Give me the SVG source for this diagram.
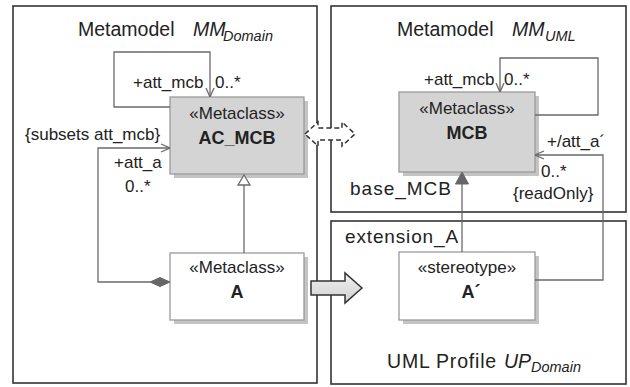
<svg xmlns="http://www.w3.org/2000/svg" width="630" height="387" viewBox="0 0 630 387">
<defs>
<style>
text{font-family:"Liberation Sans",Arial,sans-serif;font-size:17px;fill:#222}
.title{font-size:19.5px}
.frame{fill:#fff;stroke:#333;stroke-width:1.6}
.shadow{fill:#c4c4c4;stroke:none}
.mc{fill:#d4d4d4;stroke:#9a9a9a;stroke-width:1.3}
.wc{fill:#fff;stroke:#9a9a9a;stroke-width:1.3}
.ln{fill:none;stroke:#6a6a6a;stroke-width:1.3}
.b{font-weight:bold;font-size:18px}
.it{font-style:italic}
.sub{font-style:italic;font-size:14.5px}
.big{font-size:19px}
</style>
<marker id="open" viewBox="0 0 10 10" refX="10" refY="5" markerWidth="10" markerHeight="10" markerUnits="userSpaceOnUse" orient="auto">
<path d="M1,1 L10,5 L1,9" fill="none" stroke="#6a6a6a" stroke-width="1.3"/>
</marker>
<linearGradient id="ag" x1="0" y1="0" x2="0" y2="1">
<stop offset="0" stop-color="#f0f0f0"/><stop offset="1" stop-color="#d0d0d0"/>
</linearGradient>
</defs>

<g id="frame-mmdomain">
<rect class="frame" x="13" y="6" width="304" height="377"/>
<text class="title" x="78" y="36">Metamodel<tspan x="193" class="it">MM</tspan><tspan x="223" y="41" class="sub">Domain</tspan></text>
</g>
<g id="frame-mmuml">
<rect class="frame" x="331" y="6" width="295" height="206"/>
<text class="title" x="397" y="36">Metamodel<tspan x="512" class="it">MM</tspan><tspan x="545" y="41" class="sub">UML</tspan></text>
</g>
<g id="frame-profile">
<rect class="frame" x="331" y="221" width="295" height="163"/>
<text class="title" x="387" y="368" letter-spacing="0.8">UML Profile<tspan x="504" class="it" letter-spacing="0">UP</tspan><tspan x="531" y="372" class="sub" font-size="15.5" letter-spacing="0">Domain</tspan></text>
<text class="big" x="345" y="243" letter-spacing="0.85">extension_A</text>
</g>

<g id="AC_MCB">
<rect class="shadow" x="174" y="101" width="134" height="77"/>
<rect class="mc" x="170" y="97" width="134" height="77"/>
<text x="237" y="119" text-anchor="middle">«Metaclass»</text>
<text x="237" y="144" text-anchor="middle" class="b">AC_MCB</text>
</g>
<g id="A">
<rect class="shadow" x="174" y="257" width="134" height="67"/>
<rect class="wc" x="170" y="253" width="134" height="67"/>
<text x="237" y="273" text-anchor="middle">«Metaclass»</text>
<text x="237" y="298" text-anchor="middle" class="b">A</text>
</g>
<g id="MCB">
<rect class="shadow" x="403" y="96" width="136" height="80"/>
<rect class="mc" x="399" y="92" width="136" height="80"/>
<text x="467" y="114" text-anchor="middle">«Metaclass»</text>
<text x="467" y="139" text-anchor="middle" class="b">MCB</text>
</g>
<g id="stereotype-A">
<rect class="shadow" x="403" y="256" width="136" height="68"/>
<rect class="wc" x="399" y="252" width="136" height="68"/>
<text x="467" y="273" text-anchor="middle">«stereotype»</text>
<text x="471" y="298" text-anchor="middle" class="b">A´</text>
</g>

<g id="connectors">
<polyline class="ln" points="170,107 114,107 114,52 210,52 210,97" marker-end="url(#open)"/>
<text x="133" y="88">+att_mcb</text>
<text x="215" y="88">0..*</text>

<polyline class="ln" points="150,282 98,282 98,148 170,148" marker-end="url(#open)"/>
<path d="M170,282 L160,277.5 L150,282 L160,286.5 Z" fill="#666" stroke="#666" stroke-width="1"/>
<text x="25" y="140">{subsets att_mcb}</text>
<text x="114" y="168">+att_a</text>
<text x="125" y="192">0..*</text>

<line class="ln" x1="244" y1="253" x2="244" y2="185"/>
<path d="M244,175 L250,185 L238,185 Z" fill="#fff" stroke="#6a6a6a" stroke-width="1.3"/>

<polyline class="ln" points="535,115 598,115 598,58 500,58 500,92" marker-end="url(#open)"/>
<text x="424" y="85">+att_mcb</text>
<text x="504" y="85">0..*</text>

<polyline class="ln" points="535,280 603,280 603,155 535,155" marker-end="url(#open)"/>
<text x="547" y="147">+/att_a´</text>
<text x="541" y="177">0..*</text>
<text x="513" y="199">{readOnly}</text>

<line class="ln" x1="462" y1="252" x2="462" y2="183"/>
<path d="M462,172 L468.5,184 L455.5,184 Z" fill="#666" stroke="#666" stroke-width="1"/>
<text class="big" x="350" y="195" letter-spacing="1">base_MCB</text>

<path d="M305,134 L318,122 L318,128 L342,128 L342,122 L355,134 L342,146 L342,140 L318,140 L318,146 Z" fill="#fff" stroke="#333" stroke-width="1.5" stroke-dasharray="5,3"/>
<path d="M311,281 L345,281 L345,273 L362,288 L345,303 L345,295 L311,295 Z" fill="url(#ag)" stroke="#333" stroke-width="1.5"/>
</g>
</svg>
